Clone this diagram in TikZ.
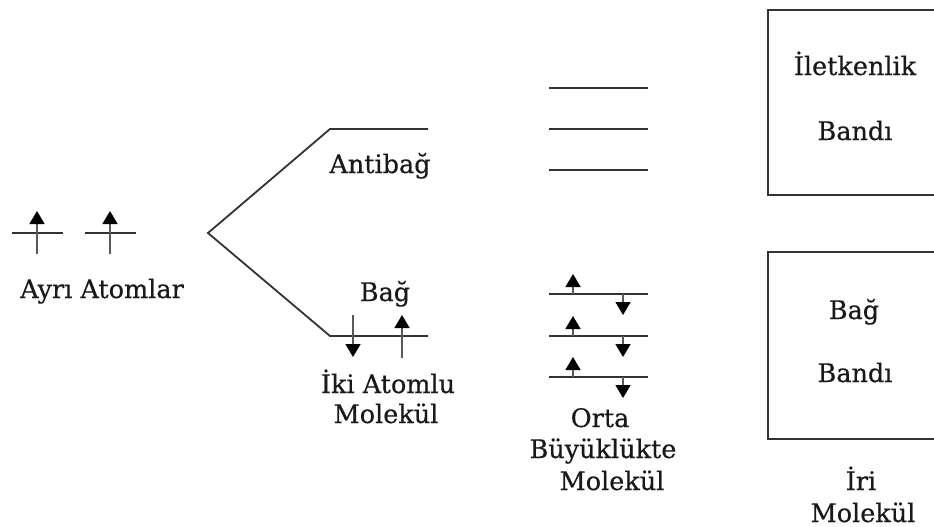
\documentclass[tikz,border=0pt]{standalone}
\usepackage{fontspec}
\setmainfont{DejaVu Serif}
\newfontfamily\lblfont[FakeBold=0.5]{DejaVu Serif}
\usetikzlibrary{arrows.meta}
\begin{document}
\begin{tikzpicture}[x=1pt,y=-1pt,
  lvl/.style={line width=1.8pt, draw=black!80, line cap=butt},
  spin/.style={line width=1.5pt, draw=black!65,
    -{Triangle[width=15pt,length=13pt,color=black,fill=black]}},
  lbl/.style={font=\lblfont\fontsize{25.5}{30}\selectfont, anchor=base, inner sep=0pt, text=black!90},
  frame/.style={line width=1.8pt, draw=black!80}]
\useasboundingbox (0,0) rectangle (934,527);

% separate atoms: one level each, one electron each
\coordinate (a1l) at (12,233);  \coordinate (a1r) at (63,233);
\coordinate (a2l) at (85,233);  \coordinate (a2r) at (136,233);
\draw[lvl] (a1l) -- (a1r);
\draw[lvl] (a2l) -- (a2r);
\coordinate (e1s) at (37,254);  \coordinate (e1t) at (37,211);
\coordinate (e2s) at (110,254); \coordinate (e2t) at (110,211);
\draw[spin] (e1s) -- (e1t);
\draw[spin] (e2s) -- (e2t);
\node[lbl] (atoms) at (102,298) {Ayrı Atomlar};

% diatomic molecule: splitting into antibonding and bonding levels
\coordinate (split) at (208,233);
\coordinate (abl) at (330,129); \coordinate (abr) at (428,129);
\coordinate (bl)  at (330,336); \coordinate (br)  at (428,336);
\draw[lvl] (abr) -- (abl) -- (split) -- (bl) -- (br);
\node[lbl] (anti) at (380,173) {Antibağ};
\node[lbl] (bond) at (385,301) {Bağ};
\coordinate (d1s) at (353,315); \coordinate (d1t) at (353,357);
\coordinate (d2s) at (402,358); \coordinate (d2t) at (402,315);
\draw[spin] (d1s) -- (d1t);
\draw[spin] (d2s) -- (d2t);
\node[lbl] (di1) at (388,393) {İki Atomlu};
\node[lbl] (di2) at (386,423) {Molekül};

% medium-size molecule: three empty and three filled levels
\foreach \y/\n in {88/u1,129/u2,170/u3}{
  \coordinate (\n l) at (549,\y); \coordinate (\n r) at (648,\y);
  \draw[lvl] (\n l) -- (\n r);
}
\foreach \y/\n in {294/f1,336/f2,377/f3}{
  \coordinate (\n l) at (549,\y); \coordinate (\n r) at (648,\y);
  \draw[lvl] (\n l) -- (\n r);
  \coordinate (\n us) at (573,\y); \coordinate (\n ut) at (573,\y-20);
  \coordinate (\n ds) at (623,\y); \coordinate (\n dt) at (623,\y+21);
  \draw[spin] (\n us) -- (\n ut);
  \draw[spin] (\n ds) -- (\n dt);
}
\node[lbl] (m1) at (600,427) {Orta};
\node[lbl] (m2) at (603,458) {Büyüklükte};
\node[lbl] (m3) at (612,490) {Molekül};

% large molecule: conduction and valence bands
\coordinate (cb1) at (934,10);  \coordinate (cb2) at (768,10);
\coordinate (cb3) at (768,195); \coordinate (cb4) at (934,195);
\draw[frame] (cb1) -- (cb2) -- (cb3) -- (cb4);
\node[lbl] (cbt1) at (855,75)  {İletkenlik};
\node[lbl] (cbt2) at (855,140) {Bandı};
\coordinate (vb1) at (934,252); \coordinate (vb2) at (768,252);
\coordinate (vb3) at (768,439); \coordinate (vb4) at (934,439);
\draw[frame] (vb1) -- (vb2) -- (vb3) -- (vb4);
\node[lbl] (vbt1) at (854,319) {Bağ};
\node[lbl] (vbt2) at (855,382) {Bandı};
\node[lbl] (big1) at (861,490) {İri};
\node[lbl] (big2) at (863,522) {Molekül};
\end{tikzpicture}
\end{document}
